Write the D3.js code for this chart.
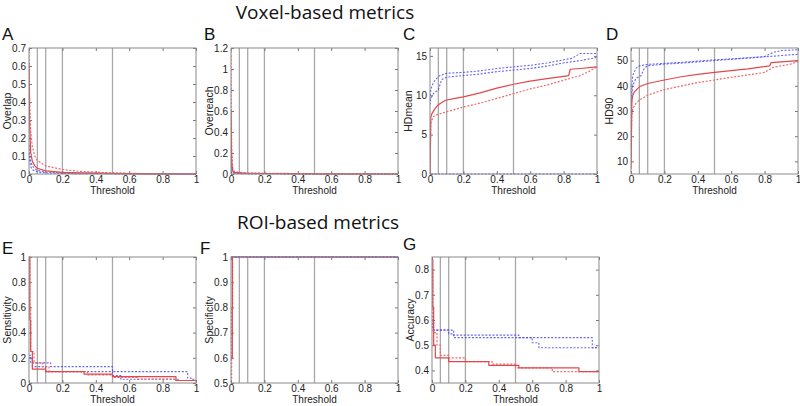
<!DOCTYPE html>
<html><head><meta charset="utf-8">
<script src="https://cdn.jsdelivr.net/npm/d3@7"></script>
<style>body{margin:0;background:#fff}svg{display:block}</style>
</head><body>
<svg id="chart" width="800" height="406"></svg>
<script>
// ---------------- DATA ----------------
const xTicks = [0, 0.2, 0.4, 0.6, 0.8, 1];
const thresholdLines = [0.05, 0.1, 0.2, 0.5];

// A: Overlap
const aX        = [0, 0.003, 0.01, 0.02, 0.035, 0.05, 0.1, 0.2, 0.3, 0.5, 0.7, 1];
const aRedSolid = [0.62, 0.3, 0.12, 0.07, 0.045, 0.032, 0.017, 0.009, 0.006, 0.003, 0.001, 0];
const aRedDot   = [0.7, 0.45, 0.24, 0.15, 0.1, 0.075, 0.045, 0.025, 0.015, 0.006, 0.002, 0];
const aBlueDot1 = [0.16, 0.12, 0.07, 0.045, 0.03, 0.02, 0.012, 0.006, 0.004, 0.002, 0.001, 0];
const aBlueDot2 = [0.12, 0.08, 0.04, 0.025, 0.016, 0.012, 0.006, 0.003, 0.002, 0.001, 0, 0];

// B: Overreach
const bX        = [0, 0.002, 0.005, 0.01, 0.02, 0.05, 0.1, 0.2, 0.5, 1];
const bRedSolid = [0.6, 0.3, 0.1, 0.03, 0.015, 0.01, 0.007, 0.005, 0.002, 0];
const bRedDot   = [1.2, 0.6, 0.2, 0.06, 0.025, 0.015, 0.01, 0.007, 0.003, 0];
const bBlueDot1 = [0.15, 0.08, 0.04, 0.02, 0.01, 0.006, 0.004, 0.003, 0.001, 0];
const bBlueDot2 = [0.1, 0.05, 0.02, 0.01, 0.006, 0.004, 0.003, 0.002, 0.001, 0];

// C: HDmean
const cRedSolidX = [0, 0.005, 0.01, 0.03, 0.05, 0.08, 0.1, 0.15, 0.2, 0.3, 0.4, 0.5, 0.6, 0.7, 0.8, 0.83, 0.84, 0.9, 1];
const cRedSolid  = [0, 7.2, 7.6, 8.3, 8.8, 9.2, 9.4, 9.6, 9.8, 10.3, 10.9, 11.4, 11.8, 12.1, 12.4, 12.5, 13.3, 13.4, 13.6];
const cRedDotX   = [0, 0.005, 0.02, 0.05, 0.1, 0.2, 0.3, 0.4, 0.5, 0.6, 0.7, 0.8, 0.9, 0.95, 1];
const cRedDot    = [0, 6.5, 7.3, 7.6, 7.9, 8.5, 9.0, 9.6, 10.2, 10.8, 11.3, 11.9, 12.5, 13.0, 13.6];
const cBlue1X    = [0, 0.005, 0.02, 0.05, 0.1, 0.2, 0.3, 0.4, 0.5, 0.6, 0.7, 0.8, 0.85, 0.9, 1];
const cBlue1     = [9.5, 10.8, 11.6, 12.4, 12.8, 12.9, 13.1, 13.4, 13.6, 13.8, 14.1, 14.5, 14.7, 15.3, 15.3];
const cBlue2X    = [0, 0.005, 0.02, 0.05, 0.07, 0.1, 0.2, 0.3, 0.4, 0.5, 0.6, 0.7, 0.8, 0.9, 1];
const cBlue2     = [8.8, 9.6, 10.2, 10.7, 12.0, 12.3, 12.5, 12.7, 13.0, 13.2, 13.4, 13.7, 14.1, 14.4, 14.8];
const cBaseX     = [0.005, 1];
const cBase      = [0, 0];

// D: HD90
const dRedSolidX = [0, 0.005, 0.01, 0.02, 0.05, 0.1, 0.2, 0.3, 0.4, 0.5, 0.6, 0.7, 0.8, 0.83, 0.84, 0.9, 1];
const dRedSolid  = [7, 34, 36, 37.6, 39.6, 40.9, 42.3, 43.6, 44.5, 45.3, 46, 46.7, 47.6, 47.9, 49.2, 49.5, 50];
const dRedDotX   = [0, 0.005, 0.01, 0.03, 0.05, 0.1, 0.2, 0.3, 0.4, 0.5, 0.6, 0.7, 0.8, 0.85, 0.95, 1];
const dRedDot    = [10, 28, 31, 33, 34.3, 36.3, 38.5, 39.9, 41.3, 42.3, 43.4, 44.3, 45.3, 47.3, 48.5, 49.6];
const dBlue1X    = [0, 0.005, 0.01, 0.03, 0.05, 0.1, 0.2, 0.3, 0.4, 0.5, 0.6, 0.7, 0.8, 0.85, 0.9, 1];
const dBlue1     = [30, 40, 44, 47, 47.9, 48.5, 48.9, 49.3, 49.8, 50.3, 50.7, 51.1, 51.6, 53.2, 54, 54.3];
const dBlue2X    = [0, 0.005, 0.01, 0.03, 0.06, 0.08, 0.1, 0.2, 0.3, 0.4, 0.5, 0.6, 0.7, 0.8, 0.9, 1];
const dBlue2     = [25, 36, 40, 43, 44, 47, 48, 48.6, 49, 49.5, 50, 50.5, 51, 51.5, 52, 52.5];

// E: Sensitivity (steps)
const eRedSolidX = [0, 0.005, 0.01, 0.02, 0.1, 0.33, 0.5, 0.88, 1];
const eRedSolid  = [1, 0.5, 0.25, 0.11, 0.09, 0.07, 0.05, 0.02, 0.02];
const eRedDotX   = [0, 0.005, 0.01, 0.03, 0.08, 0.12, 0.35, 0.5, 0.65, 0.88, 1];
const eRedDot    = [1, 0.6, 0.25, 0.16, 0.13, 0.09, 0.065, 0.045, 0.03, 0.02, 0.02];
const eBlue1X    = [0, 0.01, 0.13, 0.5, 0.95, 0.97, 1];
const eBlue1     = [0.22, 0.16, 0.13, 0.09, 0.04, 0.03, 0.03];
const eBlue2X    = [0, 0.02, 0.1, 0.5, 0.55, 0.9, 1];
const eBlue2     = [0.2, 0.13, 0.09, 0.06, 0.03, 0.02, 0.02];

// F: Specificity (steps)
const fRedSolidX = [0, 0.008, 1];
const fRedSolid  = [0.6, 1, 1];
const fRedDotX   = [0, 0.004, 0.01, 1];
const fRedDot    = [0.52, 0.8, 1, 1];
const fBlue1X    = [0, 1];
const fBlue1     = [1, 1];
const fBlue2X    = [0, 1];
const fBlue2     = [1, 1];

// G: Accuracy (steps)
const gRedSolidX = [0, 0.005, 0.01, 0.02, 0.1, 0.34, 0.52, 0.88, 1];
const gRedSolid  = [0.84, 0.65, 0.5, 0.45, 0.435, 0.42, 0.41, 0.395, 0.395];
const gRedDotX   = [0, 0.005, 0.01, 0.03, 0.05, 0.1, 0.2, 0.36, 0.5, 0.72, 1];
const gRedDot    = [0.8, 0.6, 0.55, 0.5, 0.46, 0.45, 0.435, 0.425, 0.41, 0.395, 0.395];
const gBlue1X    = [0, 0.005, 0.13, 0.52, 0.96, 1];
const gBlue1     = [0.6, 0.56, 0.54, 0.53, 0.49, 0.49];
const gBlue2X    = [0, 0.005, 0.1, 0.13, 0.6, 0.64, 1];
const gBlue2     = [0.6, 0.56, 0.545, 0.53, 0.51, 0.49, 0.49];

// y axis ticks
const aYTicks = [0, 0.1, 0.2, 0.3, 0.4, 0.5, 0.6, 0.7];
const bYTicks = [0, 0.2, 0.4, 0.6, 0.8, 1, 1.2];
const cYTicks = [0, 5, 10, 15];
const dYTicks = [10, 20, 30, 40, 50];
const eYTicks = [0, 0.2, 0.4, 0.6, 0.8, 1];
const fYTicks = [0.5, 0.6, 0.7, 0.8, 0.9, 1];
const gYTicks = [0.4, 0.5, 0.6, 0.7, 0.8];

// ---------------- STYLE ----------------
const RED = "#e2474b", RED_DOT = "#ee6a6a", BLUE = "#4b4bf0";
const tickFont = "'Liberation Sans', Arial, sans-serif";

const svg = d3.select("#chart");
const zip = (xs, ys) => xs.map((x, i) => [x, ys[i]]);

const panels = [
  {letter:"A", ylab:"Overlap", left:29, top:48, yDom:[0,0.7], yTicks:aYTicks, step:false,
   series:[[aX,aBlueDot2,"b"],[aX,aBlueDot1,"b"],[aX,aRedDot,"rd"],[aX,aRedSolid,"r"]], lx:2, ly:40},
  {letter:"B", ylab:"Overreach", left:231, top:48, yDom:[0,1.2], yTicks:bYTicks, step:false,
   series:[[bX,bBlueDot2,"b"],[bX,bBlueDot1,"b"],[bX,bRedDot,"rd"],[bX,bRedSolid,"r"]], lx:204, ly:40},
  {letter:"C", ylab:"HDmean", left:430, top:48, yDom:[0,16], yTicks:cYTicks, step:false,
   series:[[cBaseX,cBase,"b"],[cBlue2X,cBlue2,"b"],[cBlue1X,cBlue1,"b"],[cRedDotX,cRedDot,"rd"],[cRedSolidX,cRedSolid,"r"]], lx:403, ly:40},
  {letter:"D", ylab:"HD90", left:631, top:48, yDom:[5,55], yTicks:dYTicks, step:false,
   series:[[dBlue2X,dBlue2,"b"],[dBlue1X,dBlue1,"b"],[dRedDotX,dRedDot,"rd"],[dRedSolidX,dRedSolid,"r"]], lx:606, ly:40},
  {letter:"E", ylab:"Sensitivity", left:29, top:257, yDom:[0,1], yTicks:eYTicks, step:true,
   series:[[eBlue2X,eBlue2,"b"],[eBlue1X,eBlue1,"b"],[eRedDotX,eRedDot,"rd"],[eRedSolidX,eRedSolid,"r"]], lx:2, ly:254},
  {letter:"F", ylab:"Specificity", left:231, top:257, yDom:[0.5,1], yTicks:fYTicks, step:true,
   series:[[fRedDotX,fRedDot,"rd"],[fRedSolidX,fRedSolid,"r"],[fBlue2X,fBlue2,"b"],[fBlue1X,fBlue1,"b"]], lx:200, ly:254},
  {letter:"G", ylab:"Accuracy", left:432, top:257, yDom:[0.35,0.85], yTicks:gYTicks, step:true,
   series:[[gBlue2X,gBlue2,"b"],[gBlue1X,gBlue1,"b"],[gRedDotX,gRedDot,"rd"],[gRedSolidX,gRedSolid,"r"]], lx:403, ly:250}
];

const W = 167, H = 126;

// section titles
const titleFont = "'Open Sans', 'Noto Sans', sans-serif";
svg.append("text").attr("x", 325).attr("y", 19).attr("text-anchor","middle")
  .attr("font-family", titleFont).attr("font-size", 19).attr("fill","#111")
  .text("Voxel-based metrics");
svg.append("text").attr("x", 318).attr("y", 229).attr("text-anchor","middle")
  .attr("font-family", titleFont).attr("font-size", 19).attr("fill","#111")
  .text("ROI-based metrics");

panels.forEach((p, pi) => {
  const g = svg.append("g").attr("transform", `translate(${p.left},${p.top})`);
  const x = d3.scaleLinear().domain([0,1]).range([0, W]);
  const y = d3.scaleLinear().domain(p.yDom).range([H, 0]);

  const clipId = "clip" + pi;
  g.append("clipPath").attr("id", clipId).append("rect")
    .attr("x", 0).attr("y", -1).attr("width", W).attr("height", H + 2);

  // threshold lines
  g.selectAll(".thr").data(thresholdLines).enter().append("line")
    .attr("x1", d => x(d)).attr("x2", d => x(d)).attr("y1", 0).attr("y2", H)
    .attr("stroke", "#a8a8a8").attr("stroke-width", 1.3);

  // axes (inward ticks, MATLAB style)
  const axB = d3.axisBottom(x).tickValues(xTicks).tickSize(-3).tickPadding(2).tickFormat(d3.format("~g"));
  const axT = d3.axisTop(x).tickValues(xTicks).tickSize(-3).tickFormat("");
  const axL = d3.axisLeft(y).tickValues(p.yTicks).tickSize(-3).tickPadding(3).tickFormat(d3.format("~g"));
  const axR = d3.axisRight(y).tickValues(p.yTicks).tickSize(-3).tickFormat("");
  const styleAx = sel => {
    sel.select(".domain").remove();
    sel.selectAll(".tick line").attr("stroke", "#777");
    sel.selectAll(".tick text").attr("font-family", tickFont).attr("font-size", 10).attr("fill", "#222");
  };
  g.append("g").attr("transform", `translate(0,${H})`).call(axB).call(styleAx);
  g.append("g").call(axT).call(styleAx);
  g.append("g").call(axL).call(styleAx);
  g.append("g").attr("transform", `translate(${W},0)`).call(axR).call(styleAx);

  // curves
  const line = d3.line().x(d => x(d[0])).y(d => y(d[1]))
    .curve(p.step ? d3.curveStepAfter : d3.curveLinear);
  const sg = g.append("g").attr("clip-path", `url(#${clipId})`);
  p.series.forEach(([xs, ys, kind]) => {
    const path = sg.append("path").datum(zip(xs, ys)).attr("d", line)
      .attr("fill", "none").attr("stroke-linejoin", "round");
    if (kind === "r") path.attr("stroke", RED).attr("stroke-width", 1.2);
    else if (kind === "rd") path.attr("stroke", RED_DOT).attr("stroke-width", 1.2).attr("stroke-dasharray", "2,1.6");
    else path.attr("stroke", BLUE).attr("stroke-width", 1.1).attr("stroke-dasharray", "2,1.6").attr("stroke-opacity", 0.85);
  });

  // box
  g.append("rect").attr("width", W).attr("height", H).attr("fill", "none")
    .attr("stroke", "#8a8a8a").attr("stroke-width", 1);

  // axis labels
  g.append("text").attr("x", W/2).attr("y", H + 20).attr("text-anchor", "middle")
    .attr("font-family", tickFont).attr("font-size", 10).attr("fill", "#222").text("Threshold");
  g.append("text").attr("transform", `translate(-18,${H/2}) rotate(-90)`).attr("text-anchor", "middle")
    .attr("font-family", tickFont).attr("font-size", 10.5).attr("fill", "#222").text(p.ylab);

  // panel letter
  svg.append("text").attr("x", p.lx).attr("y", p.ly)
    .attr("font-family", tickFont).attr("font-size", 17).attr("fill", "#111").text(p.letter);
});
</script>
</body></html>
